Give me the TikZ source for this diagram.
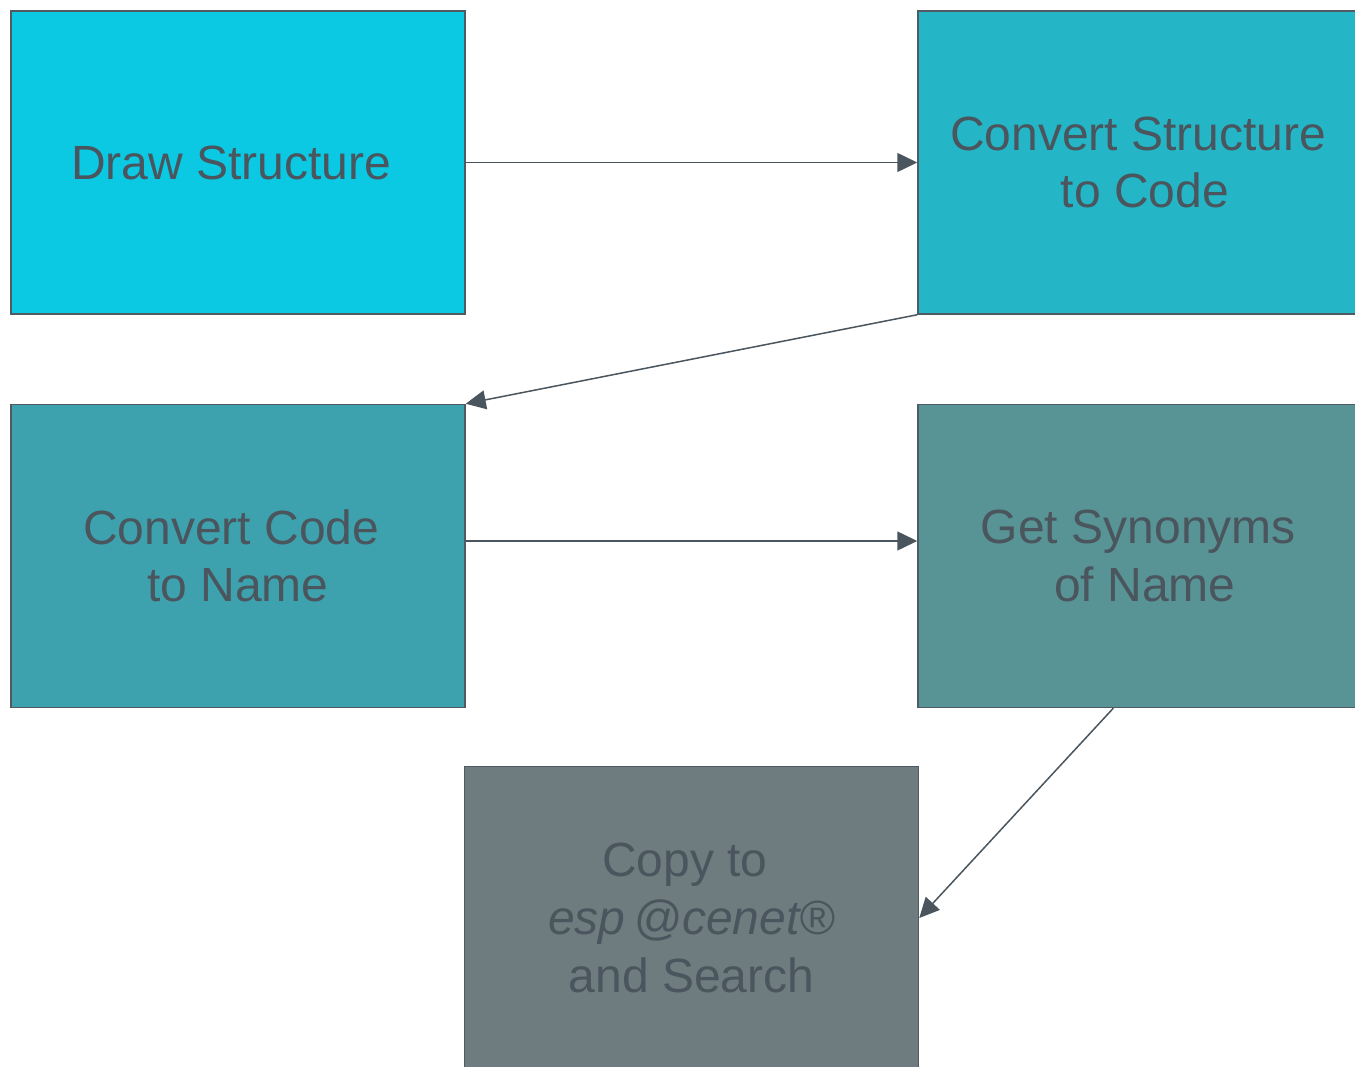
\documentclass[tikz,border=0pt]{standalone}
\usepackage{fontspec}
\setmainfont{Liberation Sans}
\usetikzlibrary{arrows.meta}
\definecolor{cA}{HTML}{0BC8E3}
\definecolor{cB}{HTML}{24B6C6}
\definecolor{cC}{HTML}{3EA2AE}
\definecolor{cD}{HTML}{589495}
\definecolor{cE}{HTML}{6E7B7F}
\definecolor{txt}{HTML}{4A555D}
\definecolor{edge}{HTML}{505A62}
\newcommand{\tsp}{\hspace*{0.278em}}
\tikzset{
  stepbox/.style={draw=edge, line width=1.5pt, rectangle, inner sep=0pt,
    minimum width=454pt, minimum height=303pt, text=txt, align=center,
    font=\fontsize{48}{57.6}\selectfont},
  conn/.style={draw=txt, line width=1.5pt, -{Triangle[length=20pt,width=19pt]}}
}
\begin{document}
\begin{tikzpicture}[x=1pt,y=-1pt]
\useasboundingbox (0,0) rectangle (1355,1067);
\clip (0,0) rectangle (1355,1067);
\node[stepbox, fill=cA] (a) at (238,162.5) {Draw Structure\tsp};
\node[stepbox, fill=cB] (b) at (1145,162.5) {Convert Structure\tsp\\to Code};
\node[stepbox, fill=cC] (c) at (238,556) {Convert Code\tsp\\to Name};
\node[stepbox, fill=cD] (d) at (1145,556) {Get Synonyms\tsp\\of Name};
\node[stepbox, fill=cE] (e) at (691.5,918) {Copy to\tsp\\\textit{esp\,@cenet®}\\and Search};
\draw[conn] (a.east) -- (b.west);
\draw[conn] (b.south west) -- (c.north east);
\draw[conn] ([yshift=15pt]c.east) -- ([yshift=15pt]d.west);
\draw[conn] ([xshift=196pt]d.south west) -- (e.east);
\end{tikzpicture}
\end{document}
